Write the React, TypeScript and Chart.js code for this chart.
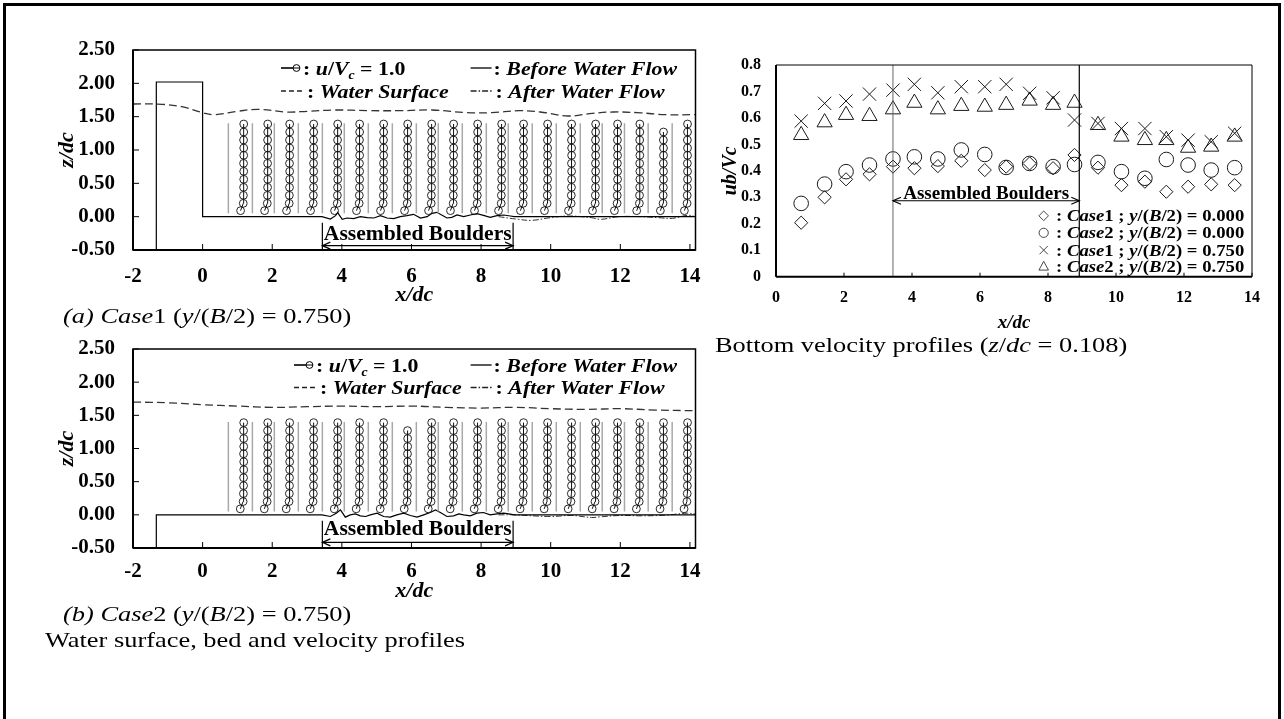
import React, { useEffect, useRef } from 'react';
import { Chart, registerables } from 'chart.js';

Chart.register(...registerables);

const SERIF = '"Liberation Serif", "Times New Roman", Times, serif';

// ---------------- data ----------------
// measuring stations (x/dc)
const STATIONS = [0.74, 1.43, 2.06, 2.75, 3.44, 4.07, 4.76, 5.45, 6.14, 6.77, 7.46, 8.15, 8.78, 9.47, 10.16, 10.85, 11.48, 12.12, 12.8, 13.49];

// tick labels
const X_TICKS_LEFT = [-2, 0, 2, 4, 6, 8, 10, 12, 14];
const Z_TICKS_LEFT = [-0.5, 0, 0.5, 1, 1.5, 2, 2.5];
const X_TICKS_BOTTOM = [0, 2, 4, 6, 8, 10, 12, 14];
const UB_TICKS = [0, 0.1, 0.2, 0.3, 0.4, 0.5, 0.6, 0.7, 0.8];

// bottom velocity ub/Vc (z/dc = 0.108)
const CASE1_Y000 = [0.204, 0.30, 0.368, 0.387, 0.416, 0.41, 0.418, 0.438, 0.403, 0.416, 0.428, 0.41, 0.46, 0.412, 0.346, 0.359, 0.321, 0.34, 0.349, 0.346];
const CASE2_Y000 = [0.277, 0.35, 0.397, 0.422, 0.445, 0.453, 0.445, 0.479, 0.462, 0.413, 0.428, 0.416, 0.424, 0.432, 0.397, 0.372, 0.443, 0.422, 0.403, 0.412];
const CASE1_Y075 = [0.588, 0.655, 0.664, 0.69, 0.705, 0.727, 0.695, 0.718, 0.718, 0.727, 0.693, 0.676, 0.592, 0.579, 0.56, 0.56, 0.529, 0.516, 0.51, 0.542];
const CASE2_Y075 = [0.535, 0.583, 0.611, 0.607, 0.632, 0.657, 0.632, 0.645, 0.642, 0.649, 0.665, 0.649, 0.657, 0.573, 0.529, 0.516, 0.516, 0.487, 0.491, 0.529];

// velocity profiles (y/(B/2) = 0.750)
const Z_LEVELS = [0.09, 0.20, 0.32, 0.44, 0.56, 0.68, 0.80, 0.92, 1.03, 1.15, 1.27, 1.39];
const U_CASE1 = [0.78, 0.95, 0.96, 0.97, 0.98, 0.98, 0.97, 0.98, 0.98, 0.97, 0.98, 0.98];
const U_CASE2 = [0.76, 0.94, 0.96, 0.97, 0.97, 0.98, 0.98, 0.97, 0.98, 0.98, 0.97, 0.98];
const LEVELS_CASE1 = [12, 12, 12, 12, 12, 12, 12, 12, 12, 12, 12, 12, 12, 12, 12, 12, 12, 12, 11, 12];
const LEVELS_CASE2 = [12, 12, 12, 12, 12, 12, 12, 11, 12, 12, 12, 12, 12, 12, 12, 12, 12, 12, 12, 12];
const REF_LINE_Z = [0.05, 1.40];
const U_SCALE = 0.45; // x/dc length of u/Vc = 1.0

// water surface
const WATER_A_X = [-2, -1.33, -0.6, 0, 0.35, 1.0, 1.6, 2.4, 3.0, 3.8, 4.8, 5.7, 6.6, 7.6, 8.3, 9.1, 9.7, 10.5, 11.2, 11.8, 12.5, 13.3, 14.16];
const WATER_A_Z = [1.69, 1.69, 1.65, 1.56, 1.53, 1.58, 1.61, 1.57, 1.58, 1.60, 1.59, 1.59, 1.60, 1.56, 1.56, 1.59, 1.57, 1.51, 1.55, 1.57, 1.56, 1.53, 1.53];
const WATER_B_X = [-2, -1, 0, 1, 2, 3, 4, 5, 6, 7, 8, 9, 10, 11, 12, 13, 14.16];
const WATER_B_Z = [1.70, 1.69, 1.66, 1.64, 1.62, 1.63, 1.64, 1.63, 1.64, 1.62, 1.61, 1.62, 1.60, 1.59, 1.60, 1.58, 1.57];

// bed before water flow
const BED_A_X = [-1.33, -1.33, 0, 0, 3.43, 3.67, 3.82, 3.88, 4.01, 4.15, 4.34, 4.53, 4.73, 4.92, 5.11, 5.30, 5.49, 5.68, 5.87, 6.06, 6.26, 6.45, 6.59, 6.73, 6.88, 7.02, 7.16, 7.31, 7.50, 7.69, 7.88, 8.07, 8.26, 8.46, 8.65, 8.84, 8.95, 14.16];
const BED_A_Z = [-0.5, 2.02, 2.02, 0, 0, -0.035, 0.015, 0.06, -0.04, -0.02, -0.03, 0.0, -0.015, -0.02, 0.015, -0.02, -0.03, 0.0, 0.015, 0.035, -0.02, 0.0, 0.05, 0.065, 0.02, -0.02, -0.01, 0.025, 0.0, 0.025, 0.045, 0.02, -0.01, 0.015, 0.025, 0.01, 0, 0];
const BED_B_X = [-1.33, -1.33, 3.43, 3.67, 3.84, 3.96, 4.10, 4.24, 4.39, 4.53, 4.68, 4.82, 5.01, 5.20, 5.39, 5.58, 5.78, 5.97, 6.16, 6.35, 6.54, 6.69, 6.83, 7.02, 7.21, 7.36, 7.50, 7.69, 7.88, 8.07, 8.26, 8.46, 8.65, 8.84, 8.95, 14.16];
const BED_B_Z = [-0.5, 0, 0, -0.025, 0.025, 0.075, -0.035, 0, 0.015, -0.015, -0.025, 0, 0.025, -0.025, -0.035, 0, 0.025, -0.01, -0.035, 0, 0.035, 0.075, 0.035, -0.025, -0.015, 0.015, 0, -0.015, 0.025, 0.035, 0, 0.015, 0.025, 0.01, 0, 0];

// bed after water flow
const AFTER_A_X = [8.5, 9.07, 9.46, 9.99, 10.5, 11.17, 11.43, 11.96, 12.6, 13.1, 13.5, 13.93, 14.16];
const AFTER_A_Z = [0, -0.04, -0.055, -0.015, 0.01, -0.015, -0.04, 0, 0, -0.015, -0.025, 0.02, 0];
const AFTER_B_X = [8.5, 8.93, 9.99, 10.6, 11.17, 11.43, 12.0, 12.6, 13.3, 13.93, 14.16];
const AFTER_B_Z = [0, 0, -0.025, -0.01, -0.04, -0.03, -0.01, -0.015, -0.005, 0.025, 0.01];

// assembled boulders reach
const BOULDER_START = 3.44;
const BOULDER_END = 8.92;
const ARROW_UB = 0.287;

// ---------------- helpers ----------------
type Seg = { t: string; i?: boolean; b?: boolean; sub?: boolean };

function drawRich(ctx: CanvasRenderingContext2D, x: number, y: number, segs: Seg[], size: number, sx: number, align: 'left' | 'center' = 'left') {
  ctx.save();
  ctx.fillStyle = '#000';
  ctx.textBaseline = 'alphabetic';
  ctx.textAlign = 'left';
  const fontFor = (s: Seg) => `${s.i ? 'italic ' : ''}${s.b ? 'bold ' : ''}${s.sub ? Math.round(size * 0.65) : size}px ${SERIF}`;
  let total = 0;
  for (const s of segs) { ctx.font = fontFor(s); total += ctx.measureText(s.t).width; }
  ctx.translate(x, y);
  ctx.scale(sx, 1);
  let cx = align === 'center' ? -total / 2 : 0;
  for (const s of segs) {
    ctx.font = fontFor(s);
    ctx.fillText(s.t, cx, s.sub ? size * 0.22 : 0);
    cx += ctx.measureText(s.t).width;
  }
  ctx.restore();
}

function seg(ctx: CanvasRenderingContext2D, x1: number, y1: number, x2: number, y2: number) {
  ctx.beginPath(); ctx.moveTo(x1, y1); ctx.lineTo(x2, y2); ctx.stroke();
}

function arrow(ctx: CanvasRenderingContext2D, x1: number, x2: number, y: number) {
  seg(ctx, x1, y, x2, y);
  ctx.beginPath();
  ctx.moveTo(x1 + 8, y - 3.5); ctx.lineTo(x1, y); ctx.lineTo(x1 + 8, y + 3.5);
  ctx.moveTo(x2 - 8, y - 3.5); ctx.lineTo(x2, y); ctx.lineTo(x2 - 8, y + 3.5);
  ctx.stroke();
}

const zip = (xs: number[], ys: number[]) => xs.map((x, i) => ({ x, y: ys[i] }));

function profileData(levels: number[], u: number[]) {
  const pts: { x: number; y: number | null }[] = [];
  STATIONS.forEach((s, i) => {
    for (let k = 0; k < levels[i]; k++) pts.push({ x: s + U_SCALE * u[k], y: Z_LEVELS[k] });
    pts.push({ x: s, y: null });
  });
  return pts;
}

function refLineData() {
  const pts: { x: number; y: number | null }[] = [];
  STATIONS.forEach((s) => {
    pts.push({ x: s, y: REF_LINE_Z[0] }, { x: s, y: REF_LINE_Z[1] }, { x: s, y: null });
  });
  return pts;
}

const CAP_A: Seg[] = [{ t: '(a) Case', i: true }, { t: '1 (' }, { t: 'y', i: true }, { t: '/(' }, { t: 'B', i: true }, { t: '/2) = 0.750)' }];
const CAP_B: Seg[] = [{ t: '(b) Case', i: true }, { t: '2 (' }, { t: 'y', i: true }, { t: '/(' }, { t: 'B', i: true }, { t: '/2) = 0.750)' }];
const CAP_LEFT: Seg[] = [{ t: 'Water surface, bed and velocity profiles' }];
const CAP_C: Seg[] = [{ t: 'Bottom velocity profiles (' }, { t: 'z', i: true }, { t: '/' }, { t: 'dc', i: true }, { t: ' = 0.108)' }];

interface LeftParams {
  padTop: number; height: number; xAxisH: number; tickPad: number; titlePad: number;
  col1: number; rows: [number, number]; textZ: number; arrowZ: number;
  waterX: number[]; waterZ: number[]; bedX: number[]; bedZ: number[]; afterX: number[]; afterZ: number[];
  levels: number[]; u: number[]; captions: { x: number; y: number; segs: Seg[] }[];
}

function leftPlugin(p: LeftParams) {
  return {
    id: 'leftDecor',
    afterDatasetsDraw(chart: any) {
      const { ctx, chartArea: ca, scales } = chart;
      const x = scales.x, y = scales.y;
      ctx.save();
      ctx.strokeStyle = '#000';
      // frame
      ctx.lineWidth = 1.5;
      ctx.strokeRect(ca.left, ca.top, ca.right - ca.left, ca.bottom - ca.top);
      ctx.lineWidth = 2;
      seg(ctx, ca.left, ca.top, ca.left, ca.bottom);
      seg(ctx, ca.left, ca.bottom, ca.right, ca.bottom);
      // inward ticks
      ctx.lineWidth = 1;
      for (const t of x.ticks) { const px = x.getPixelForValue(t.value); seg(ctx, px, ca.bottom, px, ca.bottom - 6); }
      for (const t of y.ticks) { const py = y.getPixelForValue(t.value); seg(ctx, ca.left, py, ca.left + 6, py); }
      // assembled boulders
      const xs = x.getPixelForValue(BOULDER_START), xe = x.getPixelForValue(BOULDER_END);
      ctx.lineWidth = 1.2;
      seg(ctx, xs, y.getPixelForValue(-0.09), xs, ca.bottom);
      seg(ctx, xe, y.getPixelForValue(-0.09), xe, ca.bottom);
      arrow(ctx, xs, xe, y.getPixelForValue(p.arrowZ));
      drawRich(ctx, (xs + xe) / 2, y.getPixelForValue(p.textZ), [{ t: 'Assembled Boulders', b: true }], 20, 1.08, 'center');
      // legend
      const x0 = ca.left + p.col1, c2 = ca.left + 337.6;
      const b1 = ca.top + p.rows[0], b2 = ca.top + p.rows[1];
      const m1 = b1 - 6.5, m2 = b2 - 6.5;
      ctx.lineWidth = 1.6;
      seg(ctx, x0, m1, x0 + 12, m1);
      ctx.lineWidth = 1;
      ctx.beginPath(); ctx.arc(x0 + 15.5, m1, 3.4, 0, Math.PI * 2); ctx.stroke();
      seg(ctx, x0 + 12, m1, x0 + 19, m1);
      drawRich(ctx, x0 + 22, b1, [{ t: ': ', b: true }, { t: 'u', b: true, i: true }, { t: '/', b: true }, { t: 'V', b: true, i: true }, { t: 'c', b: true, i: true, sub: true }, { t: ' = 1.0', b: true }], 19, 1.15);
      ctx.lineWidth = 1.3;
      seg(ctx, c2, m1, c2 + 21, m1);
      drawRich(ctx, c2 + 23, b1, [{ t: ': ', b: true }, { t: 'Before Water Flow', b: true, i: true }], 19, 1.15);
      ctx.setLineDash([5, 3]);
      ctx.strokeStyle = '#222';
      seg(ctx, x0, m2, x0 + 24, m2);
      ctx.setLineDash([6, 2, 1.5, 2]);
      seg(ctx, c2, m2, c2 + 23, m2);
      ctx.setLineDash([]);
      drawRich(ctx, x0 + 26, b2, [{ t: ': ', b: true }, { t: 'Water Surface', b: true, i: true }], 19, 1.15);
      drawRich(ctx, c2 + 25, b2, [{ t: ': ', b: true }, { t: 'After Water Flow', b: true, i: true }], 19, 1.15);
      // captions
      for (const c of p.captions) drawRich(ctx, c.x, c.y, c.segs, 22, 1.2);
      ctx.restore();
    },
  };
}

function leftConfig(p: LeftParams): any {
  const tickFont = { family: SERIF, size: 21, weight: 'bold' as const };
  const titleFont = { family: SERIF, size: 22, weight: 'bold' as const, style: 'italic' as const };
  return {
    type: 'scatter',
    data: {
      datasets: [
        {
          data: profileData(p.levels, p.u), showLine: true, borderColor: '#111', borderWidth: 1,
          pointRadius: 3.9, pointStyle: 'circle', pointBorderColor: '#111', pointBorderWidth: 0.9,
          pointBackgroundColor: 'rgba(0,0,0,0)', spanGaps: false,
        },
        { data: refLineData(), showLine: true, borderColor: '#a8a8a8', borderWidth: 1.5, pointRadius: 0, spanGaps: false },
        { data: zip(p.bedX, p.bedZ), showLine: true, borderColor: '#000', borderWidth: 1.2, pointRadius: 0, tension: 0 },
        { data: zip(p.afterX, p.afterZ), showLine: true, borderColor: '#333', borderWidth: 1, borderDash: [6, 2, 1.5, 2], pointRadius: 0, tension: 0.4 },
        { data: zip(p.waterX, p.waterZ), showLine: true, borderColor: '#333', borderWidth: 1.3, borderDash: [8, 4], pointRadius: 0, tension: 0.4 },
      ],
    },
    options: {
      animation: false, responsive: false, events: [],
      layout: { padding: { left: 0, top: p.padTop, right: 24.5, bottom: 0 } },
      plugins: { legend: { display: false }, tooltip: { enabled: false } },
      scales: {
        x: {
          type: 'linear', min: -2, max: 14.16,
          afterBuildTicks: (s: any) => { s.ticks = X_TICKS_LEFT.map((v) => ({ value: v })); },
          afterFit: (s: any) => { s.height = p.xAxisH; s.paddingLeft = 0; s.paddingRight = 0; },
          grid: { display: false, drawTicks: false }, border: { display: false },
          ticks: { padding: p.tickPad, color: '#000', font: tickFont, autoSkip: false, maxRotation: 0, callback: (v: number) => String(v) },
          title: { display: true, text: 'x/dc', color: '#000', font: titleFont, padding: { top: 0, bottom: p.titlePad } },
        },
        y: {
          type: 'linear', min: -0.5, max: 2.5,
          afterBuildTicks: (s: any) => { s.ticks = Z_TICKS_LEFT.map((v) => ({ value: v })); },
          afterFit: (s: any) => { s.width = 133; s.paddingTop = 0; s.paddingBottom = 0; },
          grid: { display: false, drawTicks: false }, border: { display: false },
          ticks: { padding: 18, color: '#000', font: tickFont, autoSkip: false, callback: (v: number) => v.toFixed(2) },
          title: { display: true, text: 'z/dc', color: '#000', font: titleFont, padding: { top: 54, bottom: 0 } },
        },
      },
    },
    plugins: [leftPlugin(p)],
  };
}

const A_PARAMS: LeftParams = {
  padTop: 50, height: 335, xAxisH: 85, tickPad: 14.1, titlePad: 26.8,
  col1: 148, rows: [24.5, 47.5], textZ: -0.35, arrowZ: -0.435,
  waterX: WATER_A_X, waterZ: WATER_A_Z, bedX: BED_A_X, bedZ: BED_A_Z, afterX: AFTER_A_X, afterZ: AFTER_A_Z,
  levels: LEVELS_CASE1, u: U_CASE1,
  captions: [{ x: 63, y: 323, segs: CAP_A }],
};

const B_PARAMS: LeftParams = {
  padTop: 19, height: 330, xAxisH: 112, tickPad: 11.1, titlePad: 55.1,
  col1: 161, rows: [22.5, 45], textZ: -0.30, arrowZ: -0.415,
  waterX: WATER_B_X, waterZ: WATER_B_Z, bedX: BED_B_X, bedZ: BED_B_Z, afterX: AFTER_B_X, afterZ: AFTER_B_Z,
  levels: LEVELS_CASE2, u: U_CASE2,
  captions: [{ x: 63, y: 291, segs: CAP_B }, { x: 45, y: 317, segs: CAP_LEFT }],
};

// ---------------- bottom velocity chart ----------------
function legendSymbol(ctx: CanvasRenderingContext2D, kind: string, cx: number, cy: number) {
  ctx.beginPath();
  if (kind === 'diamond') {
    const r = 4.8; ctx.moveTo(cx, cy - r); ctx.lineTo(cx + r, cy); ctx.lineTo(cx, cy + r); ctx.lineTo(cx - r, cy); ctx.closePath();
  } else if (kind === 'circle') {
    ctx.arc(cx, cy, 4.6, 0, Math.PI * 2);
  } else if (kind === 'cross') {
    const r = 4.2; ctx.moveTo(cx - r, cy - r); ctx.lineTo(cx + r, cy + r); ctx.moveTo(cx + r, cy - r); ctx.lineTo(cx - r, cy + r);
  } else {
    const r = 5.5; ctx.moveTo(cx, cy - r); ctx.lineTo(cx + r * 0.87, cy + r * 0.6); ctx.lineTo(cx - r * 0.87, cy + r * 0.6); ctx.closePath();
  }
  ctx.stroke();
}

const LEGEND_C = [
  { kind: 'diamond', segs: [{ t: ': ', b: true }, { t: 'Case', b: true, i: true }, { t: '1 ; ', b: true }, { t: 'y', b: true, i: true }, { t: '/(', b: true }, { t: 'B', b: true, i: true }, { t: '/2) = 0.000', b: true }] },
  { kind: 'circle', segs: [{ t: ': ', b: true }, { t: 'Case', b: true, i: true }, { t: '2 ; ', b: true }, { t: 'y', b: true, i: true }, { t: '/(', b: true }, { t: 'B', b: true, i: true }, { t: '/2) = 0.000', b: true }] },
  { kind: 'cross', segs: [{ t: ': ', b: true }, { t: 'Case', b: true, i: true }, { t: '1 ; ', b: true }, { t: 'y', b: true, i: true }, { t: '/(', b: true }, { t: 'B', b: true, i: true }, { t: '/2) = 0.750', b: true }] },
  { kind: 'triangle', segs: [{ t: ': ', b: true }, { t: 'Case', b: true, i: true }, { t: '2 ; ', b: true }, { t: 'y', b: true, i: true }, { t: '/(', b: true }, { t: 'B', b: true, i: true }, { t: '/2) = 0.750', b: true }] },
];
const LEGEND_C_ROWS = [156.3, 173.3, 190.6, 207.3];

const bottomPlugin = {
  id: 'bottomDecor',
  afterDatasetsDraw(chart: any) {
    const { ctx, chartArea: ca, scales } = chart;
    const x = scales.x, y = scales.y;
    ctx.save();
    const xs = x.getPixelForValue(BOULDER_START), xe = x.getPixelForValue(BOULDER_END);
    ctx.strokeStyle = '#666'; ctx.lineWidth = 1;
    seg(ctx, xs, ca.top, xs, ca.bottom);
    ctx.strokeStyle = '#000'; ctx.lineWidth = 1.2;
    seg(ctx, xe, ca.top, xe, ca.bottom);
    const ay = y.getPixelForValue(ARROW_UB);
    ctx.lineWidth = 1.2;
    arrow(ctx, xs, xe, ay);
    drawRich(ctx, (xs + xe) / 2, ay - 2, [{ t: 'Assembled Boulders', b: true }], 18, 1.06, 'center');
    // frame
    ctx.lineWidth = 1;
    seg(ctx, ca.left, ca.top, ca.right, ca.top);
    seg(ctx, ca.right, ca.top, ca.right, ca.bottom);
    ctx.lineWidth = 2;
    seg(ctx, ca.left, ca.top, ca.left, ca.bottom);
    seg(ctx, ca.left, ca.bottom, ca.right, ca.bottom);
    ctx.lineWidth = 1;
    for (const t of x.ticks) { const px = x.getPixelForValue(t.value); seg(ctx, px, ca.bottom, px, ca.bottom - 4); }
    // legend
    ctx.strokeStyle = '#333'; ctx.lineWidth = 0.9;
    LEGEND_C.forEach((item, i) => {
      const base = ca.top + LEGEND_C_ROWS[i];
      legendSymbol(ctx, item.kind, ca.left + 267.7, base - 5.5);
      drawRich(ctx, ca.left + 280, base, item.segs, 17, 1.1);
    });
    drawRich(ctx, 15, 312, CAP_C, 22, 1.2);
    ctx.restore();
  },
};

function bottomConfig(): any {
  const tickFont = { family: SERIF, size: 16, weight: 'bold' as const };
  const mk = (vals: number[], style: string, r: number) => ({
    data: STATIONS.map((s, i) => ({ x: s, y: vals[i] })),
    showLine: false, pointStyle: style, pointRadius: r, pointBorderColor: '#1a1a1a', pointBorderWidth: 1,
    pointBackgroundColor: 'rgba(0,0,0,0)',
  });
  return {
    type: 'scatter',
    data: {
      datasets: [
        mk(CASE1_Y000, 'rectRot', 6.6),
        mk(CASE2_Y000, 'circle', 7.3),
        mk(CASE1_Y075, 'crossRot', 9.4),
        mk(CASE2_Y075, 'triangle', 8.8),
      ],
    },
    options: {
      animation: false, responsive: false, events: [],
      layout: { padding: { left: 0, top: 25, right: 32, bottom: 0 } },
      plugins: { legend: { display: false }, tooltip: { enabled: false } },
      scales: {
        x: {
          type: 'linear', min: 0, max: 14,
          afterBuildTicks: (s: any) => { s.ticks = X_TICKS_BOTTOM.map((v) => ({ value: v })); },
          afterFit: (s: any) => { s.height = 83.3; s.paddingLeft = 0; s.paddingRight = 0; },
          grid: { display: false, drawTicks: false }, border: { display: false },
          ticks: { padding: 11.7, color: '#000', font: tickFont, autoSkip: false, maxRotation: 0, callback: (v: number) => String(v) },
          title: { display: true, text: 'x/dc', color: '#000', font: { family: SERIF, size: 19, weight: 'bold', style: 'italic' }, padding: { top: 0, bottom: 25.6 } },
        },
        y: {
          type: 'linear', min: 0, max: 0.8,
          afterBuildTicks: (s: any) => { s.ticks = UB_TICKS.map((v) => ({ value: v })); },
          afterFit: (s: any) => { s.width = 76; s.paddingTop = 0; s.paddingBottom = 0; },
          grid: { display: false, drawTicks: false }, border: { display: false },
          ticks: { padding: 15, color: '#000', font: tickFont, autoSkip: false, callback: (v: number) => (v === 0 ? '0' : v.toFixed(1)) },
          title: { display: true, text: 'ub/Vc', color: '#000', font: { family: SERIF, size: 20, weight: 'bold', style: 'italic' }, padding: { top: 19, bottom: 0 } },
        },
      },
    },
    plugins: [bottomPlugin],
  };
}

export default function App() {
  const refA = useRef<HTMLCanvasElement>(null);
  const refB = useRef<HTMLCanvasElement>(null);
  const refC = useRef<HTMLCanvasElement>(null);

  useEffect(() => {
    const charts: Chart[] = [];
    if (refA.current) charts.push(new Chart(refA.current, leftConfig(A_PARAMS)));
    if (refB.current) charts.push(new Chart(refB.current, leftConfig(B_PARAMS)));
    if (refC.current) charts.push(new Chart(refC.current, bottomConfig()));
    return () => charts.forEach((c) => c.destroy());
  }, []);

  return (
    <div style={{ position: 'fixed', left: 0, top: 0, width: 1284, height: 719, background: '#fff', overflow: 'hidden' }}>
      <div style={{ position: 'absolute', left: 3, top: 3, width: 1278, height: 760, border: '3px solid #000', boxSizing: 'border-box' }} />
      <canvas ref={refA} width={720} height={335} style={{ position: 'absolute', left: 0, top: 0, width: 720, height: 335 }} />
      <canvas ref={refB} width={720} height={330} style={{ position: 'absolute', left: 0, top: 330, width: 720, height: 330 }} />
      <canvas ref={refC} width={584} height={320} style={{ position: 'absolute', left: 700, top: 40, width: 584, height: 320 }} />
    </div>
  );
}
